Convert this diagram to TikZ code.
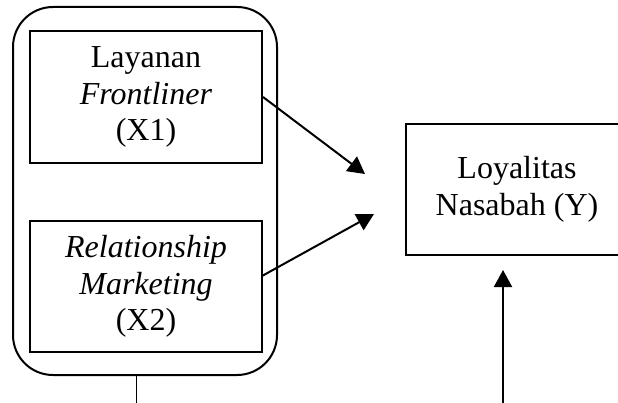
\documentclass[tikz,border=0pt]{standalone}
\usepackage{fontspec}
\setmainfont{Liberation Serif}
\usetikzlibrary{arrows.meta}
\begin{document}
\begin{tikzpicture}[x=1pt,y=-1pt,
  varbox/.style={draw=black,line width=2pt,rectangle,align=center,inner sep=0pt,
    font=\fontsize{32}{36.5}\selectfont},
  grp/.style={draw=black,line width=2pt,rectangle,rounded corners=40pt,inner sep=0pt},
  arr/.style={line width=2pt,-{Triangle[length=17pt,width=18pt]}}]
\useasboundingbox (0,0) rectangle (618,403);
\node[grp,minimum width=264pt,minimum height=368pt] (group) at (145,191) {};
\node[varbox,minimum width=232pt,minimum height=132pt] (x1) at (146,97)
  {Layanan\\\textit{Frontliner}\\(X1)};
\node[varbox,minimum width=232pt,minimum height=131pt] (x2) at (146,286.5)
  {\textit{Relationship}\\\textit{Marketing}\\(X2)};
\node[varbox,minimum width=222pt,minimum height=131pt] (y) at (517,189.5)
  {Loyalitas\\Nasabah (Y)};
\coordinate (t1) at (365,174);
\coordinate (t2) at (374,214);
\coordinate (s2) at (262,276);
\coordinate (gb) at (136,375);
\coordinate (gbe) at (136,405);
\coordinate (vb) at (503,405);
\coordinate (vt) at (503,270);
\draw[arr] (x1.east) -- (t1);
\draw[arr] (s2) -- (t2);
\draw[line width=1pt] (gb) -- (gbe);
\draw[arr] (vb) -- (vt);
\end{tikzpicture}
\end{document}
